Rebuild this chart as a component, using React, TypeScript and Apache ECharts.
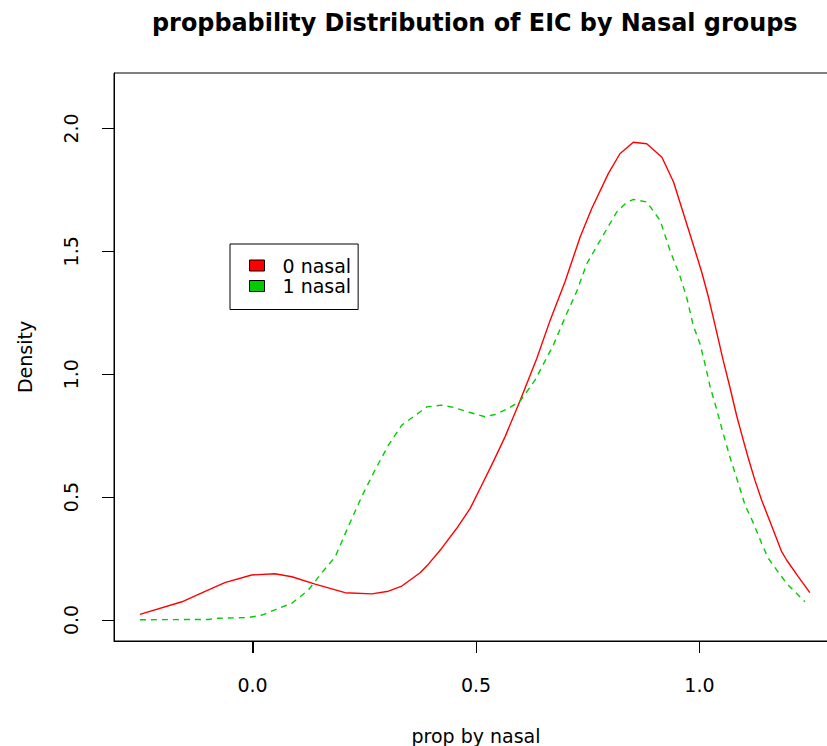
import React, { useEffect, useRef } from "react";
import * as echarts from "echarts";

const titleText = "propbability Distribution of EIC by Nasal groups";
const xName = "prop by nasal";
const yName = "Density";
const seriesNames = ["0 nasal", "1 nasal"];
const xTicks = [0, 0.5, 1.0];
const yTicks = [0, 0.5, 1.0, 1.5, 2.0];
const xRange = [-0.31, 1.31];
const yRange = [-0.0856, 2.2256];

const redX = [-0.252, -0.158, -0.121, -0.062, -0.002, 0.05, 0.088, 0.14, 0.207, 0.267, 0.304, 0.334, 0.375, 0.393, 0.423, 0.457, 0.487, 0.513, 0.535, 0.565, 0.599, 0.636, 0.666, 0.699, 0.733, 0.759, 0.796, 0.822, 0.852, 0.882, 0.916, 0.942, 0.983, 1.005, 1.02, 1.035, 1.053, 1.068, 1.083, 1.095, 1.109, 1.124, 1.139, 1.158, 1.184, 1.195, 1.221, 1.247];
const redY = [0.023, 0.074, 0.104, 0.152, 0.183, 0.188, 0.176, 0.146, 0.111, 0.106, 0.117, 0.138, 0.192, 0.226, 0.291, 0.373, 0.454, 0.549, 0.63, 0.745, 0.894, 1.064, 1.22, 1.375, 1.558, 1.674, 1.816, 1.897, 1.944, 1.938, 1.883, 1.782, 1.545, 1.416, 1.314, 1.199, 1.057, 0.948, 0.833, 0.752, 0.66, 0.569, 0.488, 0.4, 0.278, 0.244, 0.176, 0.111];

const greenX = [-0.252, -0.099, -0.077, -0.009, 0.021, 0.05, 0.088, 0.125, 0.155, 0.185, 0.214, 0.244, 0.274, 0.304, 0.334, 0.375, 0.39, 0.423, 0.449, 0.487, 0.52, 0.543, 0.572, 0.599, 0.632, 0.673, 0.703, 0.725, 0.748, 0.778, 0.815, 0.834, 0.852, 0.882, 0.912, 0.934, 0.957, 0.972, 0.986, 1.001, 1.013, 1.024, 1.039, 1.053, 1.068, 1.087, 1.102, 1.121, 1.139, 1.154, 1.173, 1.195, 1.236];
const greenY = [0.001, 0.002, 0.007, 0.01, 0.02, 0.041, 0.068, 0.122, 0.192, 0.257, 0.379, 0.501, 0.61, 0.711, 0.793, 0.847, 0.867, 0.874, 0.865, 0.844, 0.827, 0.836, 0.86, 0.891, 0.976, 1.118, 1.247, 1.335, 1.45, 1.545, 1.66, 1.694, 1.711, 1.701, 1.626, 1.504, 1.396, 1.308, 1.199, 1.125, 1.037, 0.948, 0.854, 0.759, 0.664, 0.556, 0.467, 0.393, 0.312, 0.251, 0.203, 0.149, 0.074];

const FONT = "DejaVu Sans";
const RED = "#ff0000";
const GREEN = "#00cd00";
const TICK_LEN = 12;

const zip = (xs: number[], ys: number[]) => xs.map((x, i) => [x, ys[i]]);

export default function App() {
  const ref = useRef<HTMLDivElement>(null);
  useEffect(() => {
    if (!ref.current) return;
    const chart = echarts.init(ref.current, undefined, { renderer: "svg" });
    const labelStyle = { color: "#000", fontFamily: FONT, fontSize: 19 };
    chart.setOption({
      animation: false,
      backgroundColor: "#fff",
      title: {
        text: titleText,
        left: 152,
        top: 11,
        padding: 0,
        textStyle: { color: "#000", fontFamily: FONT, fontSize: 23.9, fontWeight: "bold" },
      },
      legend: {
        data: seriesNames,
        orient: "vertical",
        left: 230,
        top: 244,
        padding: [12, 7, 14, 19],
        itemWidth: 15,
        itemHeight: 11,
        itemGap: 1.5,
        icon: "rect",
        borderColor: "#000",
        borderWidth: 1,
        borderRadius: 0,
        backgroundColor: "#fff",
        selectedMode: false,
        itemStyle: { borderColor: "#000", borderWidth: 1, borderType: "solid" },
        textStyle: { ...labelStyle, padding: [0, 0, 0, 13] },
      },
      grid: {
        left: 114,
        top: 73,
        width: 724,
        height: 568,
        show: true,
        borderColor: "#000",
        borderWidth: 1,
        backgroundColor: "transparent",
        outerBoundsMode: "none",
        containLabel: false,
      },
      xAxis: {
        type: "value",
        min: xRange[0],
        max: xRange[1],
        axisLine: { show: true, onZero: false, lineStyle: { color: "#000", width: 1 } },
        splitLine: { show: false },
        axisTick: { show: true, customValues: xTicks, length: TICK_LEN, lineStyle: { color: "#000000", width: 1 } },
        axisLabel: { ...labelStyle, customValues: xTicks, margin: 34, formatter: (v: number) => v.toFixed(1) },
        name: xName,
        nameLocation: "middle",
        nameGap: 85,
        nameTextStyle: labelStyle,
      },
      yAxis: {
        type: "value",
        min: yRange[0],
        max: yRange[1],
        axisLine: { show: true, onZero: false, lineStyle: { color: "#000", width: 1 } },
        splitLine: { show: false },
        axisTick: { show: true, customValues: yTicks, length: TICK_LEN, lineStyle: { color: "#000000", width: 1 } },
        axisLabel: { ...labelStyle, customValues: yTicks, rotate: 90, margin: 34, formatter: (v: number) => v.toFixed(1) },
        name: yName,
        nameLocation: "middle",
        nameRotate: 90,
        nameGap: 80,
        nameTextStyle: labelStyle,
      },
      series: [
        {
          name: seriesNames[0],
          type: "line",
          data: zip(redX, redY),
          showSymbol: false,
          symbol: "none",
          color: RED,
          itemStyle: { color: RED },
          lineStyle: { color: RED, width: 1.4, type: "solid" },
        },
        {
          name: seriesNames[1],
          type: "line",
          data: zip(greenX, greenY),
          showSymbol: false,
          symbol: "none",
          color: GREEN,
          itemStyle: { color: GREEN },
          lineStyle: { color: GREEN, width: 1.4, type: [6, 5] },
        },
      ],
    });

    // Tick marks placed through the chart's own scales (outside the plot box, as in R)
    const finder = { xAxisIndex: 0, yAxisIndex: 0 };
    const crisp = (v: number) => Math.round(v) + 0.5;
    const tickEls: any[] = [];
    xTicks.forEach((v) => {
      const p = chart.convertToPixel(finder, [v, yRange[0]]) as number[];
      const x = crisp(p[0]);
      tickEls.push({
        type: "line",
        silent: true,
        z: 100,
        shape: { x1: x, y1: p[1], x2: x, y2: p[1] + TICK_LEN },
        style: { stroke: "#000", lineWidth: 1 },
      });
    });
    yTicks.forEach((v) => {
      const p = chart.convertToPixel(finder, [xRange[0], v]) as number[];
      const y = crisp(p[1]);
      tickEls.push({
        type: "line",
        silent: true,
        z: 100,
        shape: { x1: p[0], y1: y, x2: p[0] - TICK_LEN, y2: y },
        style: { stroke: "#000", lineWidth: 1 },
      });
    });
    chart.setOption({ graphic: { elements: tickEls } });

    return () => chart.dispose();
  }, []);
  return (
    <div
      ref={ref}
      style={{ position: "absolute", left: 0, top: 0, width: 827, height: 746, background: "#fff" }}
    />
  );
}
